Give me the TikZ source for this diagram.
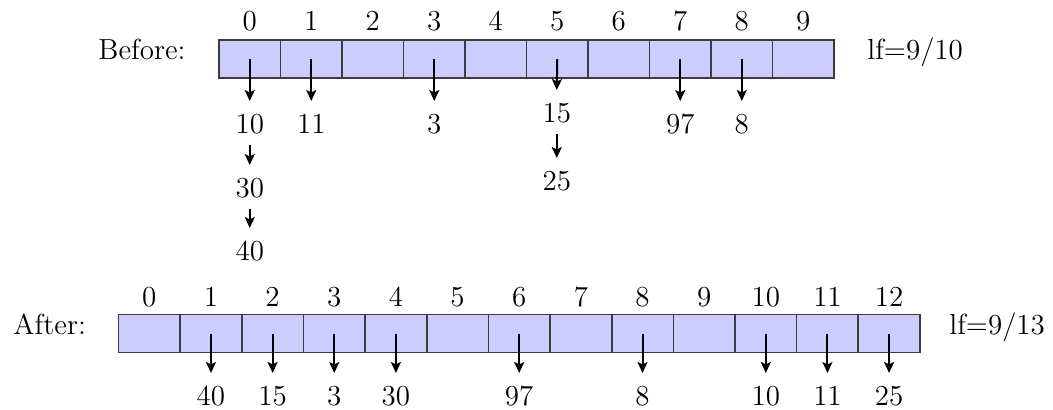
\documentclass[tikz,border=0pt]{standalone}
\usetikzlibrary{arrows.meta}
\definecolor{cellfill}{HTML}{CCCCFF}
\definecolor{cellline}{HTML}{3C3C3C}
\begin{document}
\begin{tikzpicture}[x=0.5pt,y=-0.5pt,
  font=\fontsize{14.5}{17}\selectfont,
  cell/.style={draw=cellline, fill=cellfill, line width=0.8pt, minimum width=30.8pt, minimum height=19pt, inner sep=0pt, outer sep=0pt},
  idx/.style={anchor=base, inner sep=0pt},
  lbl/.style={inner sep=0pt},
  val/.style={anchor=base, inner sep=0pt, text height=10pt, text depth=0pt, outer ysep=6pt},
  ptr/.style={-{Stealth[length=5.5pt,width=5pt,inset=1.2pt]}, line width=1pt}]
\useasboundingbox (0,0) rectangle (1053,409);

% Before array
\foreach \i in {0,...,9} {
  \node[cell] (b\i) at ({249.75+61.5*\i},59) {};
  \node[idx] (bi\i) at ({249.75+61.5*\i},30) {\i};
}
\node[lbl, anchor=base east] (before) at (186,59) {Before:};
\node[lbl, anchor=base west] (lfb) at (867,59) {lf=9/10};

% Before chains
\node[val] (v10) at (249.75,133) {10};
\node[val] (v30) at (249.75,197) {30};
\node[val] (v40) at (249.75,260) {40};
\node[val] (v11) at (311.25,133) {11};
\node[val] (v3)  at (434.25,133) {3};
\node[val] (v15) at (556.75,122) {15};
\node[val] (v25) at (556.75,190) {25};
\node[val] (v97) at (680.25,133) {97};
\node[val] (v8)  at (741.75,133) {8};

\draw[ptr] (b0.center) -- (v10.north);
\draw[ptr] (v10.south) -- (v30.north);
\draw[ptr] (v30.south) -- (v40.north);
\draw[ptr] (b1.center) -- (v11.north);
\draw[ptr] (b3.center) -- (v3.north);
\draw[ptr] (b5.center) -- (v15.north);
\draw[ptr] (v15.south) -- (v25.north);
\draw[ptr] (b7.center) -- (v97.north);
\draw[ptr] (b8.center) -- (v8.north);

% After array
\foreach \i in {0,...,12} {
  \node[cell] (a\i) at ({149.3+61.65*\i},333.5) {};
  \node[idx] (ai\i) at ({149.3+61.65*\i},306) {\i};
}
\node[lbl, anchor=base west] (after) at (13,334.5) {After:};
\node[lbl, anchor=base west] (lfa) at (949,334.5) {lf=9/13};

\foreach \c/\v in {1/40, 2/15, 3/3, 4/30, 6/97, 8/8, 10/10, 11/11, 12/25} {
  \node[val] (w\c) at ({149.3+61.65*\c},405) {\v};
  \draw[ptr] (a\c.center) -- (w\c.north);
}
\end{tikzpicture}
\end{document}
